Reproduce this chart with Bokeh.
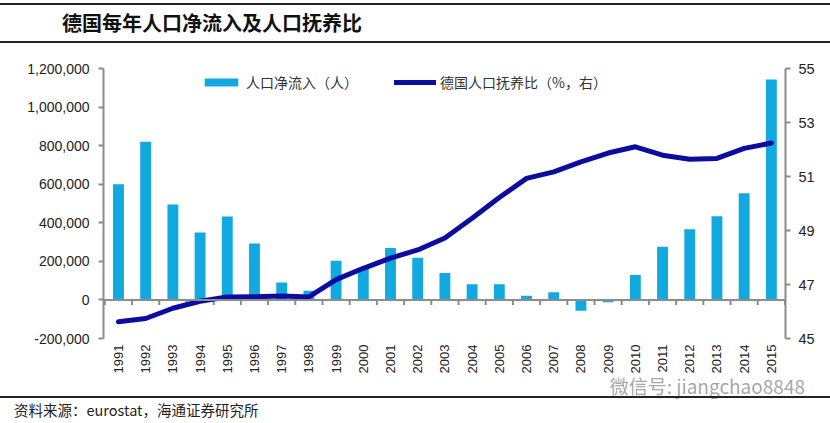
import math
from bokeh.plotting import figure
from bokeh.layouts import column
from bokeh.models import (Range1d, LinearAxis, FixedTicker, NumeralTickFormatter, Span,
                          Legend, LegendItem, ColumnDataSource, Div)
from bokeh.embed import file_html
from bokeh.resources import INLINE

years = list(range(1991, 2016))
net_inflow = [600000, 820000, 495000, 350000, 432000, 293000, 90000, 48000, 203000, 160000,
              269000, 219000, 139000, 81000, 81000, 22000, 40000, -56000, -12000, 129000,
              276000, 367000, 434000, 553000, 1143000]
dependency = [45.62, 45.74, 46.12, 46.38, 46.54, 46.55, 46.57, 46.54, 47.18, 47.60,
              47.98, 48.28, 48.72, 49.45, 50.22, 50.93, 51.17, 51.54, 51.87, 52.10,
              51.79, 51.64, 51.67, 52.04, 52.24]
left_ticks = [-200000, 0, 200000, 400000, 600000, 800000, 1000000, 1200000]
right_ticks = [45, 47, 49, 51, 53, 55]
title_text = "德国每年人口净流入及人口抚养比"
bar_label = "人口净流入（人）"
line_label = "德国人口抚养比（%，右）"
source_text = "资料来源：eurostat，海通证券研究所"
watermark = "微信号: jiangchao8848"

BAR = "#12A8E0"
LINE = "#0C0C9E"
AXIS = "#8C8C8C"
RULE = "#222222"
FONT = "Liberation Sans"
CJK = "Noto Sans CJK SC"
W = 830
TOP_H, MAIN_H = 45, 331
BOT_H = 423 - TOP_H - MAIN_H

# ---- title strip ----
top = Div(width=W, height=TOP_H, margin=(0, 0, 0, 0), text=(
    '<div style="position:relative;width:%dpx;height:%dpx;">'
    '<div style="position:absolute;left:0;top:3px;width:%dpx;height:40px;box-sizing:border-box;'
    'border-top:2px solid %s;border-bottom:2px solid %s;"></div>'
    '<div style="position:absolute;left:62px;top:9px;line-height:28px;font-family:\'%s\';'
    'font-size:20px;font-weight:bold;color:#111111;white-space:nowrap;">%s</div>'
    '</div>') % (W, TOP_H, W, RULE, RULE, CJK, title_text))

# ---- main chart ----
src = ColumnDataSource(dict(year=years, inflow=net_inflow, dep=dependency))

p = figure(width=W, height=MAIN_H, output_backend="svg", toolbar_location=None,
           x_range=Range1d(1990.45, 2015.52), y_range=Range1d(-200000, 1200000),
           min_border_left=103, min_border_right=45, min_border_top=23, min_border_bottom=37)
p.extra_y_ranges = {"r": Range1d(45, 55)}
p.outline_line_color = None
p.xgrid.visible = False
p.ygrid.visible = False
p.background_fill_color = "white"
p.border_fill_color = "white"

xa = p.xaxis[0]
xa.ticker = FixedTicker(ticks=years)
xa.major_label_orientation = math.pi / 2
xa.axis_line_color = None
xa.major_tick_line_color = None
xa.major_tick_in = 0
xa.major_tick_out = 0
xa.minor_tick_line_color = None
xa.major_label_text_font = FONT
xa.major_label_text_font_size = "13px"
xa.major_label_text_color = "#222222"
xa.major_label_standoff = 6

ya = p.yaxis[0]
ya.ticker = FixedTicker(ticks=left_ticks)
ya.formatter = NumeralTickFormatter(format="0,0")
ya.axis_line_color = AXIS
ya.axis_line_width = 2
ya.major_tick_line_color = AXIS
ya.major_tick_line_width = 2
ya.major_tick_in = 0
ya.major_tick_out = 5
ya.minor_tick_line_color = None
ya.major_label_text_font = FONT
ya.major_label_text_font_size = "14px"
ya.major_label_text_color = "#222222"
ya.major_label_standoff = 9

ra = LinearAxis(y_range_name="r", ticker=FixedTicker(ticks=right_ticks))
ra.axis_line_color = AXIS
ra.axis_line_width = 2
ra.major_tick_line_color = AXIS
ra.major_tick_line_width = 2
ra.major_tick_in = 0
ra.major_tick_out = 5
ra.minor_tick_line_color = None
ra.major_label_text_font = FONT
ra.major_label_text_font_size = "14.5px"
ra.major_label_text_color = "#222222"
ra.major_label_standoff = 8
p.add_layout(ra, "right")

bars = p.vbar(x="year", top="inflow", bottom=0, width=0.4, source=src,
              fill_color=BAR, line_color=None)

p.add_layout(Span(location=0, dimension="width", line_color=AXIS, line_width=2))
bounds = [y + 0.5 for y in [1990] + years]
p.ray(x=bounds, y=[0] * len(bounds), length=5, length_units="screen",
      angle=-math.pi / 2, line_color=AXIS, line_width=2)

ln = p.line(x="year", y="dep", source=src, y_range_name="r", line_color=LINE,
            line_width=5, line_join="round", line_cap="round")

legend = Legend(items=[LegendItem(label=bar_label, renderers=[bars]),
                       LegendItem(label=line_label, renderers=[ln])],
                orientation="horizontal", location=(97, 246), glyph_width=42,
                glyph_height=10, spacing=36, padding=0, margin=0,
                label_text_font=CJK, label_text_font_size="14px",
                label_text_color="#333333", label_standoff=4,
                background_fill_alpha=0, border_line_color=None)
p.add_layout(legend, "center")

# ---- source strip ----
bot = Div(width=W, height=BOT_H, margin=(0, 0, 0, 0), text=(
    '<div style="position:relative;width:%dpx;height:%dpx;">'
    '<div style="position:absolute;right:25px;top:-1px;line-height:22px;font-family:\'%s\';'
    'font-size:19px;color:rgba(150,150,150,0.85);white-space:nowrap;">%s</div>'
    '<div style="position:absolute;left:0;top:20px;width:%dpx;height:0;'
    'border-top:2px solid %s;"></div>'
    '<div style="position:absolute;left:14px;top:25px;line-height:18px;font-family:\'%s\';'
    'font-size:14.5px;color:#222222;white-space:nowrap;">%s</div>'
    '</div>') % (W, BOT_H, CJK, watermark, W, RULE, CJK, source_text))

layout = column(top, p, bot, spacing=0)
open("out.html", "w").write(file_html(layout, INLINE))
